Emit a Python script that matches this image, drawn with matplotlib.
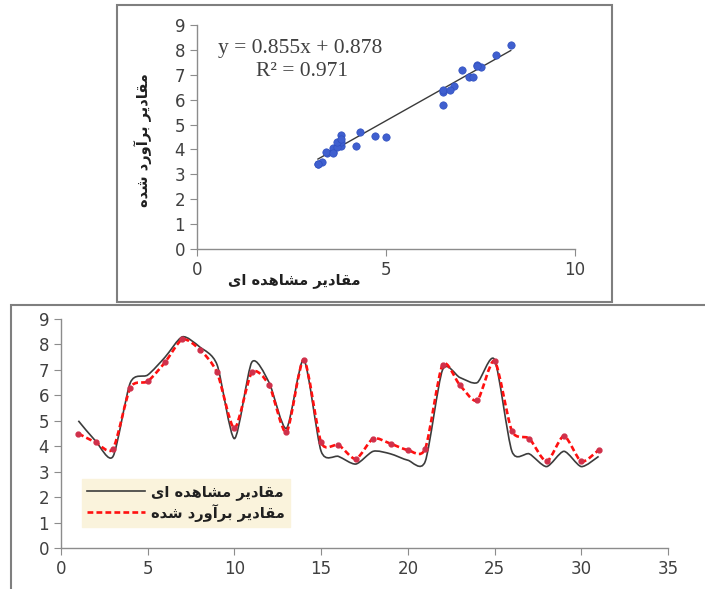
import numpy as np
import matplotlib
matplotlib.use("Agg")
import matplotlib.pyplot as plt
from matplotlib.path import Path
from matplotlib.patches import PathPatch, Rectangle
from matplotlib.lines import Line2D

# sample index 1..31, observed vs. estimated values
idx = np.arange(1, 32)
observed = [5.0, 4.2, 3.6, 6.5, 6.8, 7.5, 8.3, 7.9, 7.2, 4.3,
            7.3, 6.5, 4.7, 7.4, 3.8, 3.6, 3.3, 3.8, 3.7, 3.45,
            3.4, 7.0, 6.7, 6.5, 7.4, 3.8, 3.7, 3.2, 3.8, 3.2, 3.6]
estimated = [4.5, 4.15, 3.9, 6.3, 6.55, 7.3, 8.2, 7.8, 6.9, 4.7,
             6.9, 6.4, 4.55, 7.4, 4.15, 4.05, 3.5, 4.3, 4.1, 3.85,
             3.9, 7.2, 6.4, 5.8, 7.35, 4.6, 4.3, 3.4, 4.4, 3.4, 3.85]

# regression reported on the scatter
slope, intercept, r2 = 0.855, 0.878, 0.971

# Persian labels in presentation forms, visual (left-to-right) order
lbl_observed = "\uFEEF\uFE8D \uFEE9\uFEAA\uFEEB\uFE8E\uFEB8\uFEE3 \uFEAE\uFEF3\uFEA9\uFE8E\uFED8\uFEE3"
lbl_estimated = "\uFEE9\uFEAA\uFEB7 \uFEA9\uFEAD\uFEED\uFE81\uFEAE\uFE91 \uFEAE\uFEF3\uFEA9\uFE8E\uFED8\uFEE3"

W, H = 705, 589
TXT = "#404040"
SPINE = "#8c8c8c"


def fig_rect(x0, y0, x1, y1):
    """pixel box (top-left origin) -> figure fraction [l, b, w, h]"""
    return [x0 / W, 1 - y1 / H, (x1 - x0) / W, (y1 - y0) / H]


def smooth_path(x, y, k=1 / 8):
    # cubic bezier through the points, like a spreadsheet "smoothed line"
    x = np.asarray(x, float)
    y = np.asarray(y, float)
    n = len(x)
    verts = [(x[0], y[0])]
    codes = [Path.MOVETO]
    for i in range(n - 1):
        a = max(i - 1, 0)
        b = min(i + 2, n - 1)
        c1 = (x[i] + (x[i + 1] - x[a]) * k, y[i] + (y[i + 1] - y[a]) * k)
        c2 = (x[i + 1] - (x[b] - x[i]) * k, y[i + 1] - (y[b] - y[i]) * k)
        verts += [c1, c2, (x[i + 1], y[i + 1])]
        codes += [Path.CURVE4] * 3
    return Path(verts, codes)


def style_axes(ax):
    for s in ("top", "right"):
        ax.spines[s].set_visible(False)
    for s in ("left", "bottom"):
        ax.spines[s].set_color(SPINE)
        ax.spines[s].set_linewidth(1.0)
    ax.tick_params(colors=SPINE, labelcolor=TXT, labelsize=12, length=5,
                   width=0.8, direction="out")
    ax.set_facecolor("none")


fig = plt.figure(figsize=(W / 100, H / 100), dpi=100)
fig.patch.set_facecolor("white")

# panel frames
fig.add_artist(Rectangle((117 / W, 1 - 302 / H), (612 - 117) / W, (302 - 5) / H,
                         transform=fig.transFigure, fill=False,
                         edgecolor="#7f7f7f", lw=1.5, zorder=-1))
fig.add_artist(Rectangle((11 / W, -0.05), 1.0, (1 - 305 / H) + 0.05,
                         transform=fig.transFigure, fill=False,
                         edgecolor="#7f7f7f", lw=1.5, zorder=-1))

# ---- scatter: estimated vs observed ----
ax1 = fig.add_axes(fig_rect(197, 25, 575, 249))
style_axes(ax1)
ax1.scatter(observed, estimated, s=28, color="#3f5fcf", edgecolors="#3050c0",
            linewidths=0.5, zorder=3)
xs = np.array([min(observed), max(observed)])
ax1.plot(xs, slope * xs + intercept, color="#3a3a3a", lw=1.0, zorder=2)
ax1.set_xlim(0, 10)
ax1.set_ylim(0, 9)
ax1.set_xticks([0, 5, 10])
ax1.set_yticks(range(10))
ax1.text(0.55, 8.05, f"y = {slope}x + {intercept}", fontsize=15.5,
         family="Liberation Serif", color=TXT, va="center")
ax1.text(1.55, 7.15, f"R\u00b2 = {r2}", fontsize=15.5,
         family="Liberation Serif", color=TXT, va="center")
fig.text(294 / W, 1 - 280 / H, lbl_observed, fontsize=10.5, fontweight="bold",
         family="DejaVu Sans", color="#202020", ha="center", va="center")
fig.text(143 / W, 1 - 140 / H, lbl_estimated, fontsize=10.5, fontweight="bold",
         family="DejaVu Sans", color="#202020", ha="center", va="center",
         rotation=90)

# ---- series: observed and estimated by sample ----
ax2 = fig.add_axes(fig_rect(61, 319, 668, 548))
style_axes(ax2)
ax2.add_patch(PathPatch(smooth_path(idx, observed), fill=False,
                        edgecolor="#3c3c3c", lw=1.2, zorder=3))
ax2.add_patch(PathPatch(smooth_path(idx, estimated), fill=False,
                        edgecolor="#ff1010", lw=1.9, linestyle=(0, (2.2, 1.2)),
                        zorder=4))
ax2.plot(idx, estimated, "o", color="#d0304a", ms=3.5, zorder=5)
ax2.set_xlim(0, 35)
ax2.set_ylim(0, 9)
ax2.set_xticks(range(0, 36, 5))
ax2.set_yticks(range(10))

handles = [Line2D([], [], color="#3c3c3c", lw=1.2),
           Line2D([], [], color="#ff1010", lw=1.9, linestyle=(0, (2.2, 1.2)))]
leg = ax2.legend(handles, [lbl_observed, lbl_estimated],
                 loc="upper left", bbox_to_anchor=((82 - 61) / 607, (548 - 479) / 229),
                 borderaxespad=0, frameon=True, fancybox=False, framealpha=1,
                 handlelength=4.0, handletextpad=0.4, borderpad=0.35,
                 labelspacing=0.25,
                 prop={"family": "DejaVu Sans", "weight": "bold", "size": 10.5})
leg.get_frame().set_facecolor("#faf3dc")
leg.get_frame().set_edgecolor("#faf3dc")
for t in leg.get_texts():
    t.set_color("#202020")

fig.savefig("out.png", dpi=100)
